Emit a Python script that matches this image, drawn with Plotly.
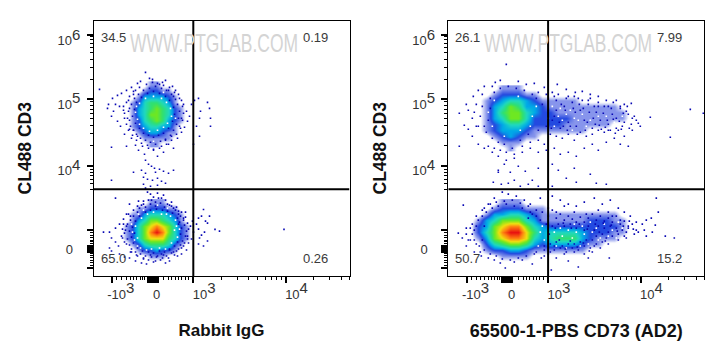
import plotly.graph_objects as go

# All positions are in cytometer display channels (0-256 on both axes)
X_TICK_POS = [18.2, 63.2, 99.8, 192.2]
Y_TICK_POS = [27, 110.3, 177, 241]
X_BLOB = [54, 55, 56, 57, 58, 59, 60, 61, 62, 63, 64]
Y_BLOB = [24, 25, 26, 28, 29, 30]
Y_LONG = [8, 46]
X_MINOR = [23, 28, 32.5, 36.5, 40, 43, 46.5, 49, 51, 70, 75, 78, 81.5, 85, 88, 91.5, 95,
           127.6, 143.9, 155.4, 164.4, 171.7, 177.9, 183.3, 188, 220, 236.3, 247.8, 256]
Y_MINOR = [11, 13.7, 16, 18.3, 20.3, 22.7, 31, 32.7, 34.3, 36, 38.3, 41, 43.3,
           87, 93, 97, 101, 104, 107, 131, 142.7, 151, 157.6, 163, 167.3, 171.2, 174.4,
           197, 208.7, 217, 223.5, 229, 233.3, 237.2, 240]
X_THRESH = 99.8
Y_THRESH = 87

XTICK_TEXT = ["-10^3", "0", "10^3", "10^4"]
YTICK_TEXT = ["0", "10^4", "10^5", "10^6"]

LEFT_PCT = ["34.5", "0.19", "65.0", "0.26"]
RIGHT_PCT = ["26.1", "7.99", "50.7", "15.2"]

LC = [21, 27, 33, 39, 45, 51, 57, 63, 69, 75, 81, 87, 93, 99, 105]
L_LOW_Y = [14, 20, 26, 32, 38, 44, 50, 56, 62, 68, 74]
L_LOW = [
 [0,0,0,0,0,0,0,0,0,0,0,0,0,0,0],
 [0,0,0,0,0,0,1,1,1,0,0,0,0,0,0],
 [0,0,0,0,1,2,2,3,2,2,1,0,0,0,0],
 [0,0,0,1,2,4,5,5,5,4,2,1,0,0,0],
 [0,0,1,2,4,6,7,7,7,5,4,2,1,0,0],
 [0,0,1,2,4,6,8,9,8,6,4,2,1,0,0],
 [0,0,1,2,4,6,7,8,7,6,4,2,1,0,0],
 [0,0,0,1,3,4,6,6,5,4,3,1,0,0,0],
 [0,0,0,1,1,3,4,4,4,3,2,1,0,0,0],
 [0,0,0,0,1,1,2,2,2,1,1,0,0,0,0],
 [0,0,0,0,0,0,1,1,1,0,0,0,0,0,0],
]
L_UP_Y = [132, 138, 144, 150, 156, 162, 168, 174, 180, 186, 192]
L_UP = [
 [0,0,0,0,0,0,1,1,0,0,0,0,0,0,0],
 [0,0,0,0,0,1,1,1,1,1,0,0,0,0,0],
 [0,0,0,0,1,2,3,3,2,1,1,0,0,0,0],
 [0,0,0,1,2,3,4,4,3,3,1,0,0,0,0],
 [0,0,0,1,2,4,5,6,5,3,2,1,0,0,0],
 [0,0,0,1,3,4,6,6,5,4,2,1,0,0,0],
 [0,0,0,1,3,4,5,6,5,4,2,1,0,0,0],
 [0,0,0,1,2,4,5,5,4,3,1,0,0,0,0],
 [0,0,0,0,1,3,3,3,3,2,1,0,0,0,0],
 [0,0,0,0,0,1,2,2,1,1,0,0,0,0,0],
 [0,0,0,0,0,0,1,1,0,0,0,0,0,0,0],
]
RC = [14, 22, 30, 38, 46, 54, 62, 70, 78, 86, 94, 102, 110, 118, 126, 134, 142, 150, 158, 166, 174, 182, 190]
R_LOW_Y = [14, 20, 26, 32, 38, 44, 50, 56, 62, 68, 74]
R_LOW = [
 [0,0,0,0,0,0,0,0,0,0,0,0,0,0,0,0,0,0,0,0,0,0,0],
 [0,0,0,0,0,1,1,1,1,0,0,0,0,0,0,0,0,0,0,0,0,0,0],
 [0,0,0,1,2,2,3,3,2,1,1,1,1,1,1,1,0,0,0,0,0,0,0],
 [0,0,0,2,4,5,6,6,5,3,2,3,3,3,3,2,1,1,0,0,0,0,0],
 [0,0,1,3,6,7,8,8,7,4,3,4,5,5,5,3,2,1,1,1,0,0,0],
 [0,0,2,4,6,8,9,9,7,5,3,4,4,4,4,3,2,2,2,1,1,0,0],
 [0,0,2,3,6,7,8,8,6,4,3,2,2,2,2,2,2,2,2,2,1,0,0],
 [0,0,1,3,4,6,6,6,4,3,1,1,1,1,1,1,2,2,2,1,1,0,0],
 [0,0,0,1,3,3,4,4,3,2,1,1,1,1,1,1,1,1,1,1,0,0,0],
 [0,0,0,0,1,2,2,2,1,1,1,0,0,0,0,0,0,0,0,0,0,0,0],
 [0,0,0,0,0,1,1,1,0,0,0,0,0,0,0,0,0,0,0,0,0,0,0],
]
R_UP_Y = [128, 134, 140, 146, 152, 158, 164, 170, 176, 182, 188]
R_UP = [
 [0,0,0,0,0,0,1,0,0,0,0,0,0,0,0,0,0,0,0,0,0,0,0],
 [0,0,0,0,0,1,1,1,0,0,0,0,0,0,0,0,0,0,0,0,0,0,0],
 [0,0,0,0,1,2,3,2,1,1,0,0,0,0,0,0,0,0,0,0,0,0,0],
 [0,0,0,1,2,3,3,3,2,1,1,1,1,1,1,1,0,0,0,0,0,0,0],
 [0,0,0,1,2,3,4,4,3,2,2,2,2,1,1,1,1,1,1,0,0,0,0],
 [0,0,0,1,3,4,6,6,4,2,2,2,2,2,1,1,1,1,1,1,1,0,0],
 [0,0,0,1,3,5,6,6,4,3,2,2,1,1,1,1,1,1,1,1,1,0,0],
 [0,0,0,1,3,4,6,5,3,3,2,1,1,1,1,1,1,1,1,1,0,0,0],
 [0,0,0,1,2,3,4,4,3,2,1,1,1,1,1,0,0,0,0,0,0,0,0],
 [0,0,0,0,1,2,2,2,1,1,0,0,0,0,0,0,0,0,0,0,0,0,0],
 [0,0,0,0,0,1,1,1,0,0,0,0,0,0,0,0,0,0,0,0,0,0,0],
]

# sparse events
L_DOTS = [
 (52,204),(6,187),(59,197),(56,198),(47,195),(44,193),(69,194),(72,196),(66,192),(79,190),(82,186),(85,182),
 (38,189),(33,186),(28,183),(24,181),(19,178),(15,172),(14,168),(20,165),(18,160),(24,155),(27,150),(22,172),
 (26,170),(31,158),(36,147),(31,142),(38,138),(42,131),(45,126),(49,130),(51,122),(55,128),(60,126),(64,120),
 (68,130),(70,124),(75,132),(80,128),(84,138),(88,144),(91,149),(94,155),(93,165),(90,172),(96,160),(98,172),
 (101,176),(105,178),(107,165),(103,150),(106,158),(114,174),(116,168),(117,158),(117,150),(106,140),(100,132),
 (33,130),(18,129),(35,176),(40,182),(42,186),(75,186),(80,180),(88,176),(30,166),(33,152),(36,156),(88,158),
 (86,150),(78,140),(72,136),(44,140),(40,146),(52,116),(55,112),(58,110),(61,108),(48,106),(62,104),(52,103),
 (66,107),(70,105),(75,103),(80,106),(50,99),(54,97),(59,96),(64,98),(68,95),(72,93),(50,92),(52,88),(57,90),
 (64,91),(40,104),(18,96),(54,84),(57,82),(60,79),(64,83),(70,81),(45,75),(50,72),(55,76),(62,74),(68,78),(74,72),
 (36,72),(22,78),(40,66),(46,68),(78,70),(82,66),(85,62),(90,58),(33,62),(30,57),(26,52),(22,48),(16,44),(10,44),
 (18,38),(22,34),(25,30),(16,28),(18,25),(26,22),(31,19),(36,18),(42,15),(48,13),(53,12),(60,14),(67,16),(72,13),
 (76,15),(84,20),(88,22),(93,26),(90,30),(95,33),(98,37),(100,44),(97,50),(99,55),(103,52),(105,47),(108,41),
 (111,44),(114,35),(106,38),(112,55),(105,58),(108,60),(116,60),(121.5,46.7),(126,45),(190.5,46.7),(110,66.7),
 (114,53),(110,30),(105,32),(28,40),(31,34),(29,47),(34,52),(37,60),(92,64),(86,54),(94,40),(88,28),(80,24),
 (38,24),(44,20),(50,18),(58,19),(64,20),(70,21),(76,26),
 (33,50),(31,43),(34,37),(36,31),(38,27),(42,24),(47,22),(52,20),(57,21),(63,19),(68,22),(73,20),(78,23),(83,25),
 (87,31),(89,35),(92,40),(93,45),(91,51),(90,56),(87,60),(85,65),(80,68),(76,71),(71,69),(67,73),(62,70),(57,72),
 (52,69),(48,71),(44,64),(40,60),(37,56),(35,62),(36,45),(38,39),(40,33),(44,28),(49,25),(55,24),(60,23),(66,25),
 (71,24),(76,27),(81,30),(84,34),(87,42),(88,48),(85,52),(84,58),(79,63),(74,65),(69,66),(63,67),(57,66),(52,64),
 (46,60),(42,55),(39,49),(41,43),(30,52),(32,46),(29,38),(33,32),(37,24),(43,21),(50,17),(55,16),(62,15),(69,18),
 (75,18),(81,21),(85,27),(91,33),(94,37),(95,47),(94,53),(92,59),(88,64),(83,69),(78,74),(72,76),(65,78),(58,76),
 (50,75),(44,70),(35,165),(34,158),(37,150),(40,146),(43,142),(47,138),(52,136),(57,134),(62,132),(67,135),(72,137),
 (77,141),(80,146),(83,152),(85,158),(86,165),(84,172),(82,177),(78,182),(73,186),(68,188),(62,190),(56,188),(50,186),
 (45,182),(41,178),(38,172),(36,168),(39,160),(42,153),(46,148),(50,143),(55,141),(60,139),(65,141),(70,143),(75,148),
 (79,155),(81,162),(80,169),(76,176),(72,180),(66,183),(60,185),(54,183),(48,179),(43,174),(41,167),(30,170),(31,163),
 (33,174),(36,180),(40,185),(46,189),(53,192),(59,194),(64,193),(70,191),(76,189),(81,184),(86,178),(89,170),(90,163),
 (89,156),(87,148),(83,142),(78,136),(73,132),(66,128),(60,127),(54,131),(48,133),(43,136),(39,141),(35,146),
]
L_WHITE = [
 (44,30),(47,28),(53,26),(72,27),(78,33),(84,39),(86,47),(82,56),(77,60),(73,62),(48,58),(42,50),(39,44),(41,36),
 (58,27),(66,28),(45,62),(54,62),(60,64),(68,62),(81,46),(44,38),(83,50),(38,52),(50,66),(64,71),(74,68),
 (42,164),(44,157),(46,152),(50,148),(56,145),(64,146),(70,149),(74,153),(78,160),(77,168),(73,174),(68,178),(60,180),
 (52,178),(46,173),(43,170),(36,158),(82,158),(60,135),(48,186),(70,184),
]
R_DOTS = [
 (58,212),(11,163),(16,151),(11,130),(242,167),(255,163),(222,139),(202,159),(190,153),(183,173),(176,172),(186,160),
 (188,156),(178,165),(172,170),(165,174),(158,176),(150,180),(142,182),(134,185),(127,184),(118,187),(109,192),(96,189),
 (86,193),(78,192),(70,195),(52,196),(47,194),(44,190),(36,190),(30,186),(25,180),(18,172),(20,166),(24,158),(28,150),
 (20,147),(24,140),(30,132),(36,128),(44,124),(50,120),(58,116),(66,118),(74,124),(82,128),(90,124),(98,126),(106,128),
 (112,122),(120,124),(128,120),(136,128),(144,132),(150,126),(158,134),(166,138),(172,132),(180,130),(176,140),(184,146),
 (170,146),(160,146),(192,150),(168,176),(160,170),(150,170),(140,176),(130,178),(120,180),(106,180),(98,182),(90,184),
 (50,106),(45,94),(50,104),(56,112),(62,104),(70,110),(77,105),(84,96),(90,108),(104,112),(110,106),(118,98),(126,108),
 (148,93),(158,92),(142,102),(53,92),(60,93),(66,96),(72,90),(80,92),(90,90),(104,90),(128,94),
 (15,71),(10,43),(208,78),(210,64),(217,40),(226,38),(203,58),(207,51),(190,44),(161,18),(130,9),(103,6),(52,13),(57,8),
 (108,18),(93,18),(120,15),(140,18),(66,14),(74,16),(84,12),(46,16),(40,18),(33,20),(26,24),(18,30),(22,36),(14,38),(18,48),
 (24,52),(28,60),(34,66),(40,72),(46,78),(54,84),(60,82),(68,80),(76,76),(82,72),(92,78),(104,80),(112,76),(120,72),(128,70),
 (136,74),(146,78),(154,72),(162,76),(170,68),(176,64),(182,60),(188,54),(194,52),(198,56),(196,46),(186,42),(178,38),(170,36),
 (160,32),(152,28),(144,24),(136,22),(126,24),(116,22),(102,24),(96,20),(88,24),(150,66),(160,64),(138,62),(126,64),
 (108,64),(100,68),(116,70),(198,40),(204,44),(180,50),(172,56),(164,60),
 (100,60),(104,66),(108,58),(112,62),(116,56),(120,60),(124,57),(128,54),(132,59),(136,54),(140,58),(144,62),(148,56),
 (152,60),(156,55),(160,58),(164,54),(168,60),(172,52),(176,55),(180,48),(184,52),(188,46),(178,44),(174,46),(168,48),
 (162,50),(156,48),(150,50),(146,46),(140,50),(136,46),(98,52),(104,50),(110,52),(116,50),(122,52),(128,48),(96,26),
 (100,22),(106,26),(112,28),(118,24),(124,28),(130,26),(136,30),(142,28),(148,32),(154,34),(158,38),(164,40),(170,42),
 (176,40),(148,40),(154,42),(160,44),(96,30),(102,32),(108,34),(114,30),(120,32),(126,32),(132,34),(138,36),(144,36),
 (92,56),(94,64),(88,66),(84,62),(80,58),(24,42),(26,36),(28,50),(30,56),(31,30),(34,60),(36,26),(38,64),(42,22),(44,68),
 (48,20),(50,70),(54,17),(58,72),(62,16),(66,70),(70,18),(74,68),(78,20),(82,64),(86,22),(26,46),(22,48),(28,32),(32,24),
 (36,68),(42,72),(48,74),(56,75),(64,76),(72,73),(80,70),(88,60),(18,42),(20,36),(34,36),(36,50),
 (32,160),(34,170),(36,150),(38,144),(42,178),(44,138),(46,184),(50,134),(52,188),(56,132),(60,190),(64,128),(68,188),
 (72,136),(76,186),(80,142),(84,182),(88,178),(90,146),(94,172),(98,150),(100,166),(104,156),(108,176),(112,148),
 (116,170),(120,154),(124,174),(128,150),(132,166),(136,156),(140,172),(144,148),(148,164),(152,156),(156,170),(160,152),
 (164,162),(168,158),(172,168),(176,154),(180,162),(184,158),(102,142),(108,140),(114,138),(120,142),(126,136),(132,144),
 (138,140),(144,142),(150,146),(156,144),(162,146),(168,148),(174,150),(104,184),(110,182),(118,178),(126,180),(134,176),
 (142,178),(150,174),(40,156),(42,168),(30,150),(28,172),(26,164),(34,182),(40,130),(46,128),(52,126),(58,124),(66,122),
 (74,130),(82,134),(90,136),(96,132),
 (106,160),(111,154),(117,166),(122,150),(127,164),(131,172),(137,146),(141,164),(146,170),(151,151),(155,163),(159,156),
 (163,168),(167,143),(171,155),(175,163),(179,170),(183,152),(113,172),(119,146),(129,142),(135,168),(145,158),(153,147),
 (103,148),(108,166),(115,150),(125,168),(139,154),(147,152),(157,149),(165,157),(173,147),(181,148),
 (106,30),(111,36),(117,27),(122,35),(129,29),(135,33),(141,25),(146,30),(151,44),(157,35),(163,51),(169,45),(175,50),
 (181,55),(185,47),(155,53),(147,52),(139,47),(131,52),(123,48),(115,53),(107,48),(101,42),
]
R_WHITE = [
 (110,160),(118,162),(126,158),(134,162),(142,156),(150,160),(158,160),(166,154),(174,160),(180,156),(112,168),(122,166),
 (130,156),(138,150),(104,170),(100,158),(106,150),(114,156),(124,146),(84,160),(88,170),(82,150),(40,164),(44,150),
 (46,176),(56,140),(72,146),(70,180),(112,48),(120,46),(128,44),(136,42),(144,44),(152,38),(160,40),(168,38),(174,48),
 (106,44),(114,40),(124,38),(132,30),(140,32),(148,48),(156,52),(164,46),(170,54),(108,30),(118,28),(126,52),(134,50),
 (142,54),(150,36),(96,36),(90,30),(92,44),(94,50),
]

CS = [[0, "#ffffff"], [0.03, "#ffffff"], [0.11, "#8896ec"], [0.22, "#2448e0"], [0.33, "#00a8e8"],
      [0.44, "#1fd8c0"], [0.56, "#30e070"], [0.67, "#70e820"], [0.78, "#f0e010"], [0.89, "#ff8010"], [1, "#e81010"]]

W, H = 725, 360
X0L, X0R, PW, YT, YB = 93.5, 448.3, 256, 20.5, 276


def sup(t):
    if "^" not in t:
        return t
    b, e = t.split("^")
    return f'{b}<sup><span style="font-size:15px">{e}</span></sup>'


fig = go.Figure()
panels = [("x", "y", "x3", "y3", LC, L_LOW_Y, L_LOW, L_UP_Y, L_UP, L_DOTS, L_WHITE, LEFT_PCT),
          ("x2", "y2", "x4", "y4", RC, R_LOW_Y, R_LOW, R_UP_Y, R_UP, R_DOTS, R_WHITE, RIGHT_PCT)]
for xa, ya, xo, yo, cols, ly, lz, uy, uz, dots, white, pct in panels:
    for yy, zz in ((ly, lz), (uy, uz)):
        fig.add_trace(go.Heatmap(x=cols, y=yy, z=zz, xaxis=xa, yaxis=ya, zmin=0, zmax=9, zsmooth="best",
                                 colorscale=CS, showscale=False, hoverinfo="skip"))
    fig.add_trace(go.Scatter(x=[d[0] for d in white], y=[d[1] for d in white], xaxis=xa, yaxis=ya, mode="markers",
                             marker=dict(symbol="square", size=1.6, color="#ffffff"), hoverinfo="skip"))
    fig.add_trace(go.Scatter(x=[d[0] for d in dots], y=[d[1] for d in dots], xaxis=xa, yaxis=ya, mode="markers",
                             marker=dict(symbol="square", size=1.6, color="#0808b4"), hoverinfo="skip"))
    # empty trace that keeps the extra tick-only axes alive
    fig.add_trace(go.Scatter(x=[], y=[], xaxis=xo, yaxis=yo, mode="markers", hoverinfo="skip"))
    fig.add_shape(type="line", xref=xa, yref=ya, x0=X_THRESH, x1=X_THRESH, y0=0, y1=256, line=dict(color="black", width=2))
    fig.add_shape(type="line", xref=xa, yref=ya, x0=0, x1=256, y0=Y_THRESH, y1=Y_THRESH, line=dict(color="black", width=2))
    for (tx, px, py, anc) in zip(pct, (5, 236, 5, 236), (239, 239, 18, 18), ("left", "right", "left", "right")):
        fig.add_annotation(xref=xa, yref=ya, x=px, y=py, text=tx, showarrow=False,
                           xanchor=anc, yanchor="middle",
                           font=dict(family="Liberation Sans", size=13, color="#3a3a3a"))
    fig.add_annotation(xref=xa, yref=ya, x=120, y=233, text="WWW.PTGLAB.COM", showarrow=False, xanchor="center",
                       yanchor="middle", font=dict(family="Liberation Sans", size=17.5, color="#d4d4d4"))

tick = dict(range=[0, 256], showgrid=False, zeroline=False, showline=True, mirror=True, linecolor="black", linewidth=1,
            ticks="outside", ticklen=6, tickwidth=2, tickcolor="black", tickmode="array", automargin=False,
            tickangle=0, tickfont=dict(family="Liberation Sans", size=13, color="#333333"))
# tick-only overlay: unlabelled long ticks around zero
extra = dict(range=[0, 256], showgrid=False, zeroline=False, showline=False, ticks="outside", ticklen=6, tickwidth=2,
             tickcolor="black", tickmode="array", showticklabels=False, automargin=False)
xtext = ["\u00a0" * 5 + sup(XTICK_TEXT[0]), XTICK_TEXT[1], "\u00a0" * 6 + sup(XTICK_TEXT[2]), "\u00a0" * 6 + sup(XTICK_TEXT[3])]
ytext = [YTICK_TEXT[0] + "\u00a0" * 3] + [sup(t) + "\u00a0" for t in YTICK_TEXT[1:]]
yheavy = Y_LONG + Y_BLOB
xminor = dict(tickmode="array", tickvals=X_MINOR, ticklen=3, tickwidth=1, tickcolor="black", ticks="outside", showgrid=False)
yminor = dict(tickmode="array", tickvals=Y_MINOR, ticklen=3, tickwidth=1, tickcolor="black", ticks="outside", showgrid=False)
tf = dict(family="Liberation Sans", size=17.5, color="#111111")
tf_long = dict(family="Liberation Sans", size=18, color="#111111")
ydom = [1 - YB / H, 1 - YT / H]
fig.update_layout(
    width=W, height=H, margin=dict(l=0, r=0, t=0, b=0), paper_bgcolor="white", plot_bgcolor="white", showlegend=False,
    xaxis=dict(tick, domain=[X0L / W, (X0L + PW) / W], anchor="y", tickvals=X_TICK_POS, ticktext=xtext, minor=xminor,
               title=dict(text="<b>Rabbit IgG</b>", font=dict(tf, size=17), standoff=23)),
    xaxis2=dict(tick, domain=[X0R / W, (X0R + PW) / W], anchor="y2", tickvals=X_TICK_POS, ticktext=xtext, minor=xminor,
                title=dict(text="<b>65500-1-PBS CD73 (AD2)</b>", font=tf_long, standoff=23)),
    yaxis=dict(tick, domain=ydom, anchor="x", tickvals=Y_TICK_POS, ticktext=ytext, minor=yminor,
               title=dict(text="<b>CL488 CD3</b>", font=tf, standoff=21)),
    yaxis2=dict(tick, domain=ydom, anchor="x2", tickvals=Y_TICK_POS, ticktext=ytext, minor=yminor,
                title=dict(text="<b>CL488 CD3</b>", font=tf, standoff=21)),
    xaxis3=dict(extra, domain=[X0L / W, (X0L + PW) / W], anchor="y3", overlaying="x", tickvals=X_BLOB),
    yaxis3=dict(extra, domain=ydom, anchor="x3", overlaying="y", tickvals=yheavy),
    xaxis4=dict(extra, domain=[X0R / W, (X0R + PW) / W], anchor="y4", overlaying="x2", tickvals=X_BLOB),
    yaxis4=dict(extra, domain=ydom, anchor="x4", overlaying="y2", tickvals=yheavy),
)
POST = """
document.body.style.margin = '0';
document.querySelectorAll('.annotation-text').forEach(function (t) {
  if (t.textContent.indexOf('WWW') === 0) {
    var b = t.getBBox(), cy = b.y + b.height / 2;
    t.setAttribute('transform', 'matrix(1,0,0,1.5,0,' + (-0.5 * cy) + ')');
  }
});
document.querySelectorAll('.ytick text, .y2tick text').forEach(function (t) {
  if (t.textContent.indexOf('10') === 0) {
    t.setAttribute('transform', (t.getAttribute('transform') || '') + ' translate(0,5)');
  }
});
"""
fig.write_html("out.html", post_script=POST, config=dict(displayModeBar=False))
